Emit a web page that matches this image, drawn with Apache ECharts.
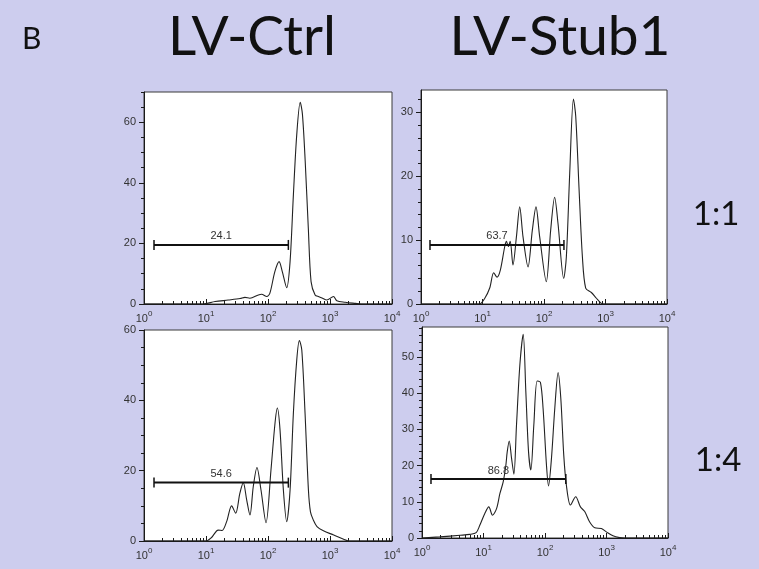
<!DOCTYPE html>
<html>
<head>
<meta charset="utf-8">
<script src="https://cdn.jsdelivr.net/npm/echarts@6/dist/echarts.min.js"></script>
<style>
  html, body { margin: 0; padding: 0; background: #cdcdee; }
  #chart { width: 759px; height: 569px; }
</style>
</head>
<body>
<div id="chart"></div>
<script>
// ---- Histogram data: fluorescence intensity (log scale) vs. event count ----

// LV-Ctrl, ratio 1:1
const ctrl11Intensity = [1, 8.9, 14, 22.8, 35.5, 42.5, 51, 70, 79, 95.5, 107, 129, 151, 170, 200, 227, 257, 291, 331, 359, 398, 447, 495, 575, 661, 741, 891, 1138, 1288, 1758, 2570, 3162, 10000];
const ctrl11Count     = [0, 0, 0.8, 1.3, 1.8, 2.2, 1.9, 3.0, 3.2, 2.5, 3.5, 10.7, 14.0, 10.7, 5.4, 14, 36.2, 56, 66.6, 62.7, 47.2, 25, 7.4, 3.0, 2.4, 2.0, 1.3, 2.5, 1.1, 0.6, 0.2, 0, 0];

// LV-Stub1, ratio 1:1
const stub11Intensity = [1, 8.9, 10.9, 13.1, 15.2, 17.2, 19.5, 23.0, 24.5, 26.3, 28.2, 31.3, 35.6, 40.3, 45.6, 55, 64.7, 74.1, 85.1, 109, 128.5, 149, 169, 209, 231, 262, 301, 328, 372, 421, 476, 589, 711, 857, 1000, 10000];
const stub11Count     = [0, 0, 0.9, 2.5, 4.9, 4.2, 5.3, 9.0, 9.8, 9.0, 9.8, 6.1, 10.5, 15.2, 10.5, 5.8, 11.6, 15.2, 10.5, 3.5, 11.6, 16.7, 12.6, 4.0, 7.4, 20.5, 32.1, 29.4, 17.9, 7.4, 2.5, 1.8, 0.9, 0.1, 0, 0];

// LV-Ctrl, ratio 1:4
const ctrl14Intensity = [1, 10, 12.3, 15.7, 18.2, 21.5, 25.9, 30.1, 35.2, 39.9, 45.3, 51.2, 57.9, 66.4, 77.1, 92.9, 111.7, 129.7, 141.6, 156.3, 177, 200.4, 227, 256.4, 291, 320.6, 350.8, 396.3, 448.7, 484, 537, 617, 783, 1148, 1660, 1995, 10000];
const ctrl14Count     = [0, 0, 1.0, 3.1, 3.0, 5.5, 10.0, 7.9, 13.6, 16.6, 11.7, 7.4, 15.5, 20.9, 14.5, 5.2, 20.2, 33.5, 37.8, 31.6, 14.5, 5.5, 14.5, 36.2, 51.5, 57.0, 54.3, 36.2, 14.5, 8.3, 6.0, 4.1, 2.9, 1.7, 0.5, 0, 0];

// LV-Stub1, ratio 1:4
const stub14Intensity = [1, 1.95, 4.2, 6.0, 7.6, 8.7, 10.5, 12.2, 14.0, 16.3, 18.5, 20.9, 23.1, 24.3, 26.2, 28.6, 31.2, 34.4, 39, 44.2, 48.8, 54, 58.9, 65.8, 74.5, 84.3, 93.1, 105.7, 114, 127.4, 144.2, 163.3, 180.7, 201.8, 223.4, 259.4, 316, 376.7, 442.6, 533, 645.7, 826, 995, 1274, 1637, 1995, 10000];
const stub14Count     = [0, 0.3, 0.75, 1.0, 1.5, 3.5, 6.8, 8.6, 6.3, 8.1, 12.3, 15.5, 20.1, 23.8, 26.8, 22.0, 17.6, 31.2, 47.8, 56.3, 40.4, 23.8, 18.8, 31.2, 43.4, 43.0, 35.8, 20.1, 14.4, 22.0, 35.8, 45.7, 38.6, 22.9, 14.4, 9.1, 11.4, 8.6, 7.3, 4.4, 2.8, 2.6, 1.7, 0.6, 0.1, 0, 0];

// Marker gates (low bound, high bound, drawn height, percentage in gate)
const gateLow   = [1.45, 1.4, 1.45, 1.4];
const gateHigh  = [213, 211, 213, 218];
const gateLevel = [19.5, 9.25, 16.6, 16.3];
const gateLabel = ['24.1', '63.7', '54.6', '86.8'];

// Axis ranges and tick labels
const intensityTicks = [1, 10, 100, 1000, 10000];
const countMax = [70, 33.5, 60, 58.3];
const countTicks = [
  [0, 20, 40, 60],
  [0, 10, 20, 30],
  [0, 20, 40, 60],
  [0, 10, 20, 30, 40, 50]
];
const countMinorStep = [5, 2, 5, 2];

// Column / row headings
const columnTitles = ['LV-Ctrl', 'LV-Stub1'];
const rowTitles = ['1:1', '1:4'];
const panelLetter = 'B';

// ---- Layout ----
const grids = [
  { left: 144, top: 92, width: 248, height: 212 },
  { left: 421, top: 90, width: 246, height: 214 },
  { left: 144, top: 330, width: 248, height: 211 },
  { left: 422, top: 327, width: 246, height: 211 }
];
const seriesData = [
  [ctrl11Intensity, ctrl11Count],
  [stub11Intensity, stub11Count],
  [ctrl14Intensity, ctrl14Count],
  [stub14Intensity, stub14Count]
];

const INK = '#1a1a1a';
const LABEL_INK = '#333';
const LABEL_FONT = 'Liberation Sans';

// Minor tick positions for a decade axis (in log10 units: 2..9 of each decade)
function decadeMinorTicks() {
  const out = [];
  for (let d = 0; d < 4; d++) {
    for (let k = 2; k <= 9; k++) out.push(d + Math.log10(k));
  }
  return out;
}
function linearMinorTicks(max, step) {
  const out = [];
  for (let v = step; v <= max + 1e-9; v += step) out.push(+v.toFixed(4));
  return out;
}

const xAxes = [], yAxes = [], series = [];
grids.forEach((g, i) => {
  // data axis (log scale) with major ticks and labels
  xAxes.push({
    type: 'log', logBase: 10, gridIndex: i, min: 1, max: 10000, position: 'bottom',
    axisLine: { show: true, onZero: false, lineStyle: { color: INK, width: 1 } },
    axisTick: { show: true, inside: true, length: 5, lineStyle: { color: INK }, customValues: intensityTicks },
    splitLine: { show: false },
    axisLabel: {
      show: true, margin: 6, color: LABEL_INK, fontFamily: LABEL_FONT, fontSize: 11,
      customValues: intensityTicks,
      hideOverlap: false,
      formatter: v => '{b|10}{s|' + Math.round(Math.log10(v)) + '}',
      rich: {
        b: { fontSize: 11, lineHeight: 18, fontFamily: LABEL_FONT, color: LABEL_INK },
        s: { fontSize: 8, lineHeight: 8, verticalAlign: 'top', fontFamily: LABEL_FONT, color: LABEL_INK }
      }
    }
  });
  // companion axis carrying the in-decade minor ticks
  xAxes.push({
    type: 'value', gridIndex: i, min: 0, max: 4, position: 'bottom',
    axisLine: { show: false }, axisLabel: { show: false }, splitLine: { show: false },
    axisTick: { show: true, inside: true, length: 3, lineStyle: { color: INK }, customValues: decadeMinorTicks() }
  });
  yAxes.push({
    type: 'value', gridIndex: i, min: 0, max: countMax[i], position: 'left',
    axisLine: { show: true, lineStyle: { color: INK, width: 1 } },
    axisTick: { show: true, inside: false, length: 5, lineStyle: { color: INK }, customValues: countTicks[i] },
    splitLine: { show: false },
    axisLabel: { show: true, margin: 8, color: LABEL_INK, fontFamily: LABEL_FONT, fontSize: 11, customValues: countTicks[i] }
  });
  yAxes.push({
    type: 'value', gridIndex: i, min: 0, max: countMax[i], position: 'left', offset: 0,
    axisLine: { show: false }, axisLabel: { show: false }, splitLine: { show: false },
    axisTick: { show: true, inside: false, length: 3, lineStyle: { color: INK },
      customValues: linearMinorTicks(countMax[i], countMinorStep[i]) }
  });

  const [xs, ys] = seriesData[i];
  series.push({
    type: 'line', xAxisIndex: 2 * i, yAxisIndex: 2 * i,
    data: xs.map((x, k) => [x, ys[k]]),
    showSymbol: false, symbol: 'none', smooth: 0.3,
    lineStyle: { color: '#222', width: 1.1 }, silent: true, z: 3
  });

  series.push({
    type: 'custom', xAxisIndex: 2 * i, yAxisIndex: 2 * i,
    data: [[gateLow[i], gateHigh[i], gateLevel[i]]],
    encode: { x: [0, 1], y: 2 },
    silent: true, z: 4,
    renderItem: (params, api) => {
      const a = api.coord([api.value(0), api.value(2)]);
      const b = api.coord([api.value(1), api.value(2)]);
      const cap = 5;
      return {
        type: 'group',
        children: [
          { type: 'line', shape: { x1: a[0], y1: a[1], x2: b[0], y2: b[1] }, style: { stroke: '#111', lineWidth: 2 } },
          { type: 'line', shape: { x1: a[0], y1: a[1] - cap, x2: a[0], y2: a[1] + cap }, style: { stroke: '#111', lineWidth: 1.5 } },
          { type: 'line', shape: { x1: b[0], y1: b[1] - cap, x2: b[0], y2: b[1] + cap }, style: { stroke: '#111', lineWidth: 1.5 } },
          { type: 'text', x: (a[0] + b[0]) / 2, y: a[1] - 3,
            style: { text: gateLabel[i], fill: LABEL_INK, font: '11px "Liberation Sans"', align: 'center', verticalAlign: 'bottom' } }
        ]
      };
    }
  });
});

const option = {
  backgroundColor: '#cdcdee',
  animation: false,
  grid: grids.map(g => Object.assign({ show: true, backgroundColor: '#ffffff', borderColor: '#3a3a3a', borderWidth: 1 }, g)),
  xAxis: xAxes,
  yAxis: yAxes,
  series: series,
  graphic: [
    { type: 'text', x: 22, y: 39, style: { text: panelLetter, font: '30px Lato', fill: '#111', verticalAlign: 'middle' } },
    { type: 'text', x: 252, y: 37, style: { text: columnTitles[0], font: '55px Lato', fill: '#111', align: 'center', verticalAlign: 'middle' } },
    { type: 'text', x: 560, y: 37, style: { text: columnTitles[1], font: '55px Lato', fill: '#111', align: 'center', verticalAlign: 'middle' } },
    { type: 'text', x: 716, y: 214, style: { text: rowTitles[0], font: '33px Lato', fill: '#111', align: 'center', verticalAlign: 'middle' } },
    { type: 'text', x: 718, y: 460, style: { text: rowTitles[1], font: '33px Lato', fill: '#111', align: 'center', verticalAlign: 'middle' } }
  ]
};

const chart = echarts.init(document.getElementById('chart'), null, { renderer: 'canvas', width: 759, height: 569 });
chart.setOption(option);
</script>
</body>
</html>
